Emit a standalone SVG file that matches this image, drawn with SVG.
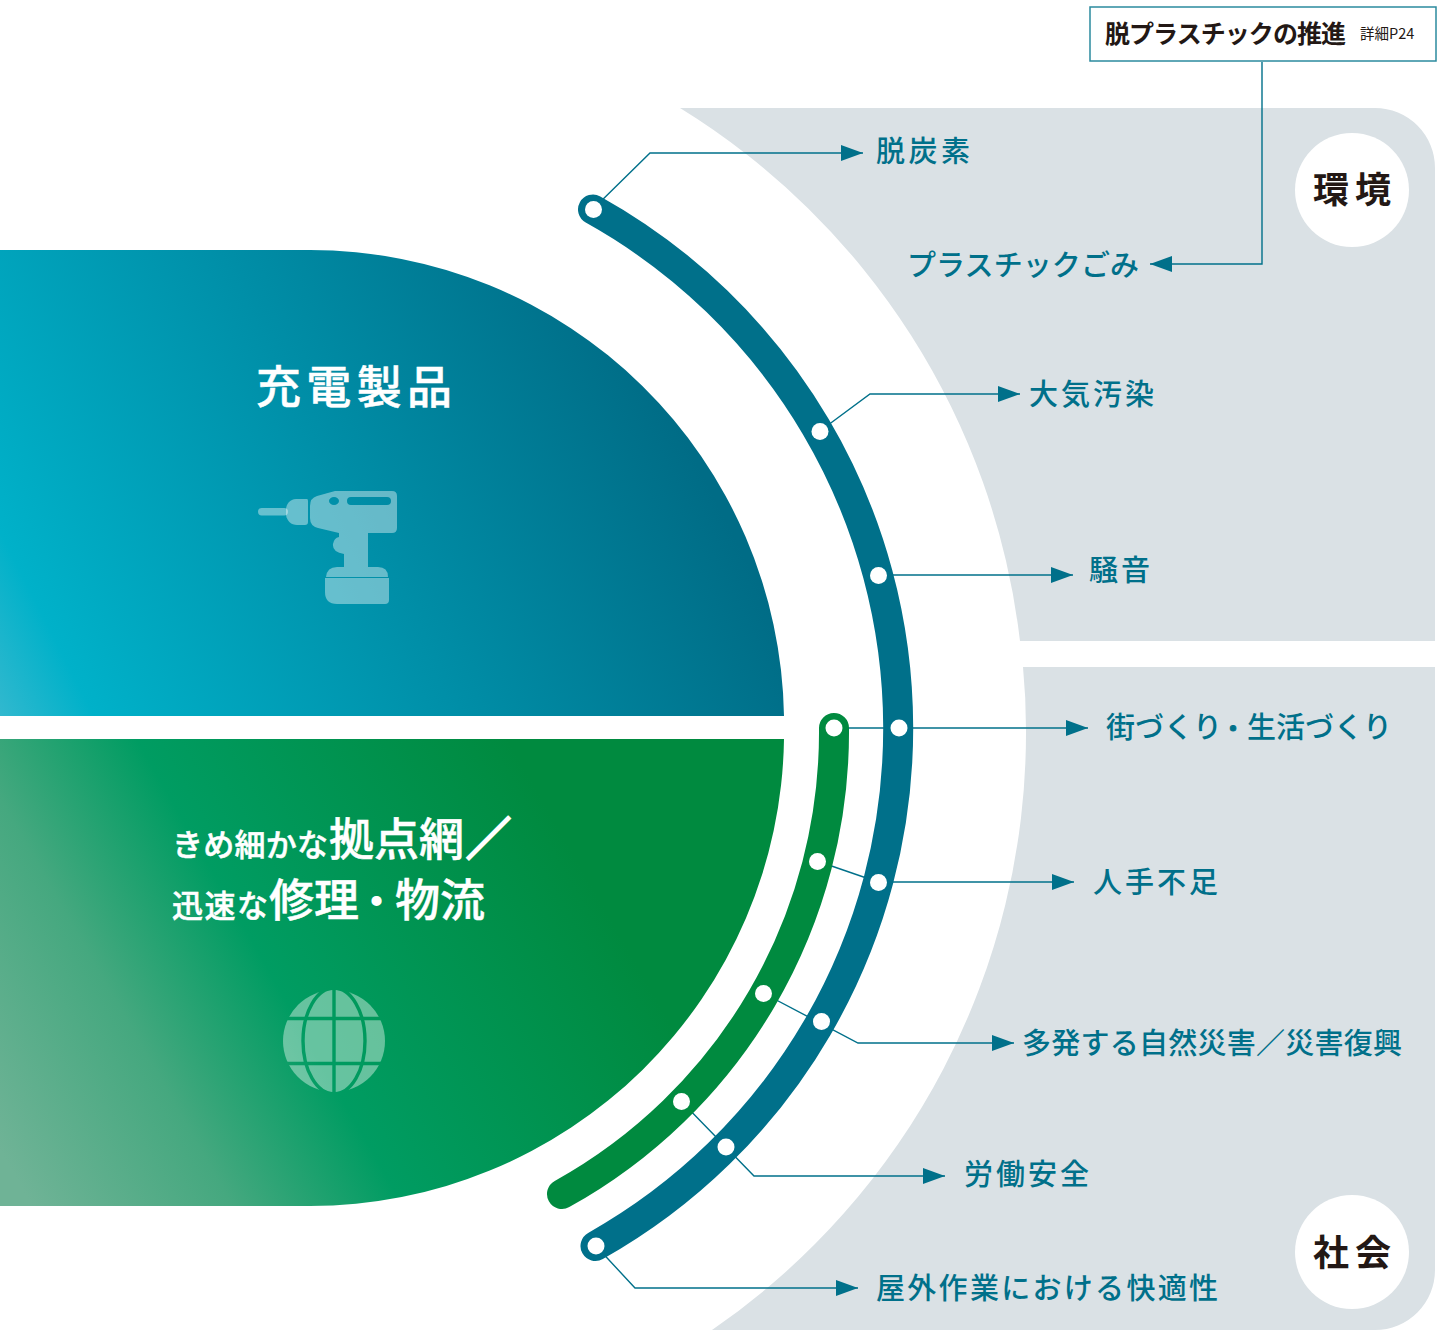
<svg xmlns="http://www.w3.org/2000/svg" width="1437" height="1330" viewBox="0 0 1437 1330">
<style>
text{font-family:"Noto Sans CJK JP","Noto Sans",sans-serif}
.lb{font-size:29px;fill:#00708a;font-weight:500}
.wh{fill:#fff;font-weight:500;stroke:#fff;stroke-width:.5}
.bk{fill:#231815;font-weight:700}
.cn{fill:none;stroke:#00708a;stroke-width:1.4}
.arc{fill:none;stroke-width:30;stroke-linecap:round}
.dot{fill:#fff}
.panel{fill:#dae1e5}
.ic{fill:#fff;fill-opacity:.4}
</style>
<defs>
<linearGradient id="gb" gradientUnits="userSpaceOnUse" x1="-10" y1="740" x2="700" y2="380">
<stop offset="0" stop-color="#3dbad0"/><stop offset=".13" stop-color="#00b1c9"/><stop offset=".95" stop-color="#006c86"/><stop offset="1" stop-color="#006c86"/>
</linearGradient>
<linearGradient id="gg" gradientUnits="userSpaceOnUse" x1="0" y1="1150" x2="560" y2="830">
<stop offset="0" stop-color="#6fb396"/><stop offset=".27" stop-color="#45a87f"/><stop offset=".5" stop-color="#009c62"/><stop offset="1" stop-color="#008a3f"/>
</linearGradient>
<marker id="ah" markerUnits="userSpaceOnUse" markerWidth="23" markerHeight="16" refX="22" refY="8" orient="auto">
<path d="M0 0L22 8L0 16Z" fill="#00708a"/>
</marker>
<mask id="gm" maskUnits="userSpaceOnUse" x="280" y="985" width="110" height="112">
<circle cx="334" cy="1041" r="51" fill="#fff"/>
<g fill="none" stroke="#000" stroke-width="3.4">
<path d="M334 985V1097M280 1018.500H390M280 1063.500H390"/>
<ellipse cx="334" cy="1041" rx="31" ry="53"/>
</g>
</mask>
</defs>

<g id="panel-env">
<path class="panel" d="M680 108H1375A60 60 0 0 1 1435 168V641H1020A725 725 0 0 0 680 108Z"/>
<circle cx="1352" cy="190" r="57" fill="#fff"/>
<text class="bk" x="1313" y="203" font-size="36" textLength="78">環境</text>
</g>
<g id="panel-soc">
<path class="panel" d="M1023 667H1435V1270A60 60 0 0 1 1375 1330H712A725 725 0 0 0 1026 730Q1026 698 1023 667Z"/>
<circle cx="1352" cy="1252" r="57" fill="#fff"/>
<text class="bk" x="1313" y="1266" font-size="36" textLength="78">社会</text>
</g>

<g id="node-charge">
<path fill="url(#gb)" d="M0 250H310A474 474 0 0 1 784 716H0Z"/>
<text class="wh" x="256" y="404" font-size="45" textLength="196">充電製品</text>
<g id="drill" class="ic">
<rect x="258" y="508" width="30" height="7.500" rx="3.700"/>
<path d="M307 499H296C290 499 286 504 286 510V515C287 521 291 525 297 525H305Q308 525 308 522V501Q308 499 307 499Z"/>
<path fill-rule="evenodd" d="M310 506Q310 498 317 496L335 491H392Q397 491 397 496V528Q397 533 392 533H368V567H344V554Q332 552 333 544Q334 538 339 537V533L318 528Q310 526 310 518ZM334 497A5 4 0 1 0 334 505A5 4 0 1 0 334 497ZM351 497A4 4 0 0 0 351 505H387A4 4 0 0 0 387 497Z"/>
<path d="M326 577Q327 567 337 567H378Q388 567 388 577Z"/>
<path d="M325 578H389V600Q389 604 385 604H337Q325 604 325 592Z"/>
</g>
</g>

<g id="node-network">
<path fill="url(#gg)" d="M0 739H784A474 474 0 0 1 310 1206H0Z"/>
<text class="wh" x="172" y="856" font-size="31" textLength="156">きめ細かな</text>
<text class="wh" x="329" y="856" font-size="45">拠点網<tspan x="466" stroke-width="2.500">／</tspan></text>
<text class="wh" x="172" y="917" font-size="31" textLength="96">迅速な</text>
<text class="wh" x="269" y="917" font-size="45">修理<tspan x="359" font-size="35" y="914" stroke-width="2">・</tspan><tspan x="395" y="917">物流</tspan></text>
<rect id="globe" class="ic" x="280" y="985" width="110" height="112" mask="url(#gm)"/>
</g>

<g id="connectors">
<path class="cn" marker-end="url(#ah)" d="M593 209L650 153H863"/>
<path class="cn" marker-end="url(#ah)" d="M1262 62V264H1150"/>
<path class="cn" marker-end="url(#ah)" d="M820 431L870 394H1020"/>
<path class="cn" marker-end="url(#ah)" d="M878 575H1073"/>
<path class="cn" marker-end="url(#ah)" d="M834 728H1088"/>
<path class="cn" d="M817 861L878 882"/>
<path class="cn" marker-end="url(#ah)" d="M878 882H1074"/>
<path class="cn" marker-end="url(#ah)" d="M763 993L858 1043H1014"/>
<path class="cn" marker-end="url(#ah)" d="M681 1101L754 1176H945"/>
<path class="cn" marker-end="url(#ah)" d="M596 1246L635 1288H858"/>
</g>

<g id="arc-blue">
<path class="arc" stroke="#00708a" d="M593 209.500A593.800 593.800 0 0 1 595.500 1246"/>
<circle class="dot" cx="593.500" cy="209.500" r="8.500"/>
<circle class="dot" cx="820" cy="431.500" r="8.500"/>
<circle class="dot" cx="878.500" cy="575.500" r="8.500"/>
<circle class="dot" cx="899" cy="728" r="8.500"/>
<circle class="dot" cx="878.500" cy="882.500" r="8.500"/>
<circle class="dot" cx="821.500" cy="1021.500" r="8.500"/>
<circle class="dot" cx="726" cy="1147" r="8.500"/>
<circle class="dot" cx="596" cy="1246" r="8.500"/>
</g>
<g id="arc-green">
<path class="arc" stroke="#008a3f" d="M834 728A528 528 0 0 1 562 1194"/>
<circle class="dot" cx="834" cy="728" r="8.500"/>
<circle class="dot" cx="817.500" cy="861.500" r="8.500"/>
<circle class="dot" cx="763.500" cy="993.500" r="8.500"/>
<circle class="dot" cx="681.500" cy="1101.500" r="8.500"/>
</g>

<g id="labels">
<text class="lb" x="876" y="162" textLength="94">脱炭素</text>
<text class="lb" x="907" y="276" textLength="232">プラスチックごみ</text>
<text class="lb" x="1029" y="405" textLength="125">大気汚染</text>
<text class="lb" x="1089" y="581" textLength="61">騒音</text>
<text class="lb" x="1106" y="738">街づくり<tspan x="1221" font-size="24" y="737" stroke="#00708a" stroke-width="1">・</tspan><tspan x="1247" y="738">生活づくり</tspan></text>
<text class="lb" x="1093" y="893" textLength="125">人手不足</text>
<text class="lb" x="1022" y="1054" textLength="380">多発する自然災害／災害復興</text>
<text class="lb" x="964" y="1185" textLength="125">労働安全</text>
<text class="lb" x="876" y="1299" textLength="342">屋外作業における快適性</text>
</g>

<g id="box-plastic">
<rect x="1090" y="7" width="346" height="54" fill="#fff" stroke="#2b8a9e" stroke-width="1.500"/>
<text class="bk" x="1105" y="43" font-size="25" textLength="241">脱プラスチックの推進</text>
<text x="1360" y="39" font-size="14.500" fill="#231815">詳細P24</text>
</g>
</svg>
